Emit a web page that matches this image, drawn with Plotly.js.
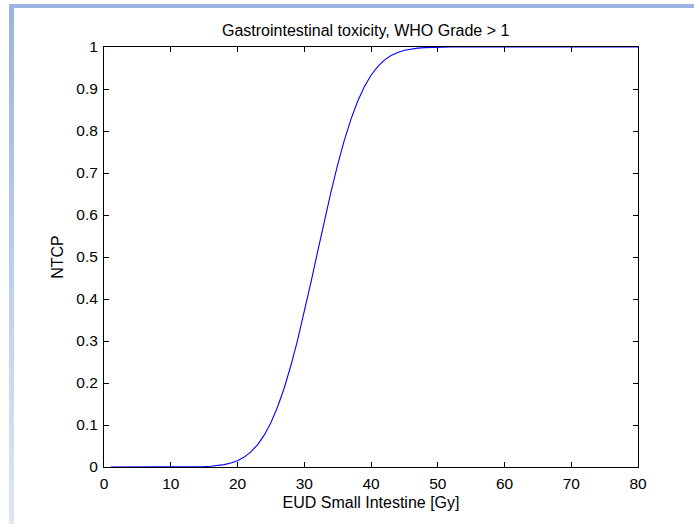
<!DOCTYPE html>
<html>
<head>
<meta charset="utf-8">
<script src="https://cdn.plot.ly/plotly-3.0.1.min.js"></script>
<style>
  html, body { margin:0; padding:0; background:#ffffff; }
  #wrap { position:relative; width:694px; height:524px; overflow:hidden; background:#ffffff; }
  #chart { position:absolute; left:0; top:0; width:694px; height:524px; }
  #topband { position:absolute; left:9px; top:4px; width:685px; height:4px; background:#9db5e3; pointer-events:none; }
  #leftband { position:absolute; left:9px; top:4px; width:5px; height:520px;
    background:linear-gradient(to bottom, #9ab3e2 0%, #bccdee 50%, #dde6f5 100%); pointer-events:none; }
</style>
</head>
<body>
<div id="wrap">
  <div id="chart"></div>
  <div id="topband"></div>
  <div id="leftband"></div>
</div>
<script>
// EUD small intestine [Gy]
const eud = [1,2,3,4,5,6,7,8,9,10,11,12,13,14,15,16,17,18,19,20,
             21,22,23,24,25,26,27,28,29,30,31,32,33,34,35,36,37,38,39,40,
             41,42,43,44,45,46,47,48,49,50,51,52,53,54,55,56,57,58,59,60,
             61,62,63,64,65,66,67,68,69,70,71,72,73,74,75,76,77,78,79,80];
// NTCP values
const ntcp = [0,0,0,0,0,0,0,0,0,0,0,0,0,0.0006,0.001,0.0019,0.0033,0.0057,0.0094,0.0151,
              0.0236,0.0359,0.0529,0.0758,0.1055,0.1428,0.1881,0.2416,0.3022,0.3688,
              0.4396,0.5124,0.5848,0.6545,0.7193,0.7775,0.8282,0.8707,0.9054,0.9327,
              0.9534,0.9688,0.9796,0.9871,0.9921,0.9953,0.9973,0.9985,0.9992,0.9996,
              1,1,1,1,1,1,1,1,1,1,1,1,1,1,1,1,1,1,1,1,1,1,1,1,1,1,1,1,1,1];
const xTicks = [0,10,20,30,40,50,60,70,80];
const yTicks = [0,0.1,0.2,0.3,0.4,0.5,0.6,0.7,0.8,0.9,1];
const yTickText = ['0','0.1','0.2','0.3','0.4','0.5','0.6','0.7','0.8','0.9','1'];

const fam = '"Liberation Sans", Arial, sans-serif';
const labelFont = {family:fam, size:16, color:'#000000'};
const tickFont = {family:fam, size:15.5, color:'#000000'};

Plotly.newPlot('chart', [{
  x: eud, y: ntcp, type:'scatter', mode:'lines',
  line:{color:'#0000ff', width:1.1}, hoverinfo:'skip'
}], {
  width:694, height:524,
  margin:{l:104, r:56, t:47, b:57, pad:0},
  paper_bgcolor:'#ffffff', plot_bgcolor:'#ffffff',
  showlegend:false,
  font: labelFont,
  title:{text:'Gastrointestinal toxicity, WHO Grade > 1', font:labelFont, xref:'paper', x:0.49, xanchor:'center', y:1-30/524, yanchor:'middle'},
  xaxis:{
    range:[0,80], tickvals:xTicks, ticktext:xTicks.map(String),
    ticks:'inside', ticklen:5, tickwidth:1, tickcolor:'#000000',
    showline:true, linecolor:'#000000', linewidth:1, mirror:'allticks',
    showgrid:false, zeroline:false, layer:'below traces',
    tickfont:tickFont, ticklabelstandoff:2,
    title:{text:'EUD Small Intestine [Gy]', font:labelFont, standoff:6}
  },
  yaxis:{
    range:[0,1], tickvals:yTicks, ticktext:yTickText,
    ticks:'inside', ticklen:5, tickwidth:1, tickcolor:'#000000',
    showline:true, linecolor:'#000000', linewidth:1, mirror:'allticks',
    showgrid:false, zeroline:false, layer:'below traces',
    tickfont:tickFont, ticklabelstandoff:2,
    title:{text:'NTCP', font:labelFont, standoff:8}
  }
}, {staticPlot:true, displayModeBar:false});
</script>
</body>
</html>
